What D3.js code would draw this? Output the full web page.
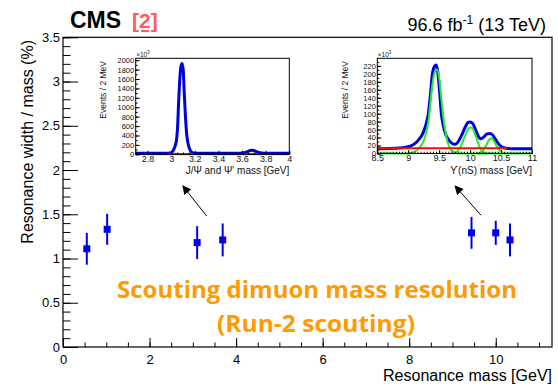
<!DOCTYPE html>
<html><head><meta charset="utf-8">
<script src="https://cdn.jsdelivr.net/npm/d3@7"></script>
<style>
html,body{margin:0;padding:0;background:#fff;}
svg{display:block;font-family:"Liberation Sans",Arial,Helvetica,sans-serif;}
</style></head>
<body><svg id="c" width="558" height="384"></svg>
<script>
// ---- main chart data ----
const resonanceMass = [0.55, 1.02, 3.10, 3.69, 9.44, 10.0, 10.33];
const widthOverMass = [1.11, 1.33, 1.18, 1.21, 1.29, 1.29, 1.21];
const widthError    = [0.18, 0.175, 0.186, 0.186, 0.18, 0.136, 0.186];
const mainXTicks = [0, 2, 4, 6, 8, 10];
const mainYTicks = [0, 0.5, 1, 1.5, 2, 2.5, 3, 3.5];
const mainYTickLabels = ["0", "0.5", "1", "1.5", "2", "2.5", "3", "3.5"];
// arrows (data units of main chart): [x, y]
const arrowTail = [[3.32, 1.48], [9.66, 1.49]];
const arrowHead = [[2.77, 1.82], [9.06, 1.82]];

// ---- J/psi inset (events x10^3) ----
const jpsiMass  = [2.70,2.85,2.95,2.99,3.01,3.02,3.035,3.047,3.055,3.063,3.072,3.082,3.092,3.102,3.111,3.12,3.132,3.143,3.154,3.17,3.188,3.22,3.35,3.5,3.58,3.62,3.65,3.67,3.685,3.70,3.72,3.75,3.79,3.9,4.0];
const jpsiTotal = [22,22,24,30,55,95,190,340,600,1100,1550,1850,1930,1800,1300,850,420,230,128,55,30,24,22,22,24,36,62,80,85,80,60,34,24,22,22];
const jpsiBkgMassA = [2.97, 3.2], jpsiBkgA = [6, 6];
const jpsiBkgMassB = [3.62, 3.75], jpsiBkgB = [6, 6];
const jpsiXTicks = [2.8, 3, 3.2, 3.4, 3.6, 3.8, 4];
const jpsiXTickLabels = ["2.8", "3", "3.2", "3.4", "3.6", "3.8", "4"];
const jpsiYTicks = [0,200,400,600,800,1000,1200,1400,1600,1800,2000];

// ---- Upsilon inset (events x10^3) ----
const upsMass  = [8.5,8.8,9.0,9.1,9.17,9.235,9.29,9.325,9.36,9.39,9.43,9.455,9.48,9.51,9.535,9.56,9.6,9.66,9.71,9.755,9.8,9.86,9.92,9.96,10.0,10.04,10.08,10.12,10.17,10.22,10.27,10.32,10.36,10.4,10.45,10.5,10.56,10.7,11.0];
const upsTotal = [12,13,17,24,35,50,75,100,150,200,220,222,200,150,100,75,50,33,25,23,28,45,66,77,79,76,63,47,37,41,49,50,47,38,26,18,14,12,12];
const ups1SMass = [8.5,9.0,9.1,9.2,9.27,9.33,9.38,9.42,9.46,9.5,9.54,9.58,9.63,9.68,9.73,9.8,11.0];
const ups1S     = [0,0,4,18,40,85,160,200,211,190,130,75,32,12,4,0,0];
const ups2SMass = [9.72,9.78,9.85,9.92,9.97,10.01,10.05,10.1,10.15,10.2,10.26];
const ups2S     = [0,4,18,45,62,66,60,40,18,5,0];
const ups3SMass = [10.12,10.2,10.26,10.3,10.34,10.38,10.43,10.49,10.56];
const ups3S     = [0,6,20,33,38,33,18,6,0];
const upsBkgMass = [8.5, 10.6], upsBkg = [13, 13];
const upsXTicks = [8.5, 9, 9.5, 10, 10.5, 11];
const upsXTickLabels = ["8.5", "9", "9.5", "10", "10.5", "11"];
const upsYTicks = [0,20,40,60,80,100,120,140,160,180,200,220];

const svg = d3.select("#c");
const BLUE = "#0000f0";

// ================= main chart =================
const x = d3.scaleLinear().domain([0, 11.3]).range([63, 552]);
const y = d3.scaleLinear().domain([0, 3.5]).range([347, 37.3]);

svg.append("rect").attr("x", x(0)).attr("y", y(3.5))
  .attr("width", x(11.3) - x(0)).attr("height", y(0) - y(3.5))
  .attr("fill", "none").attr("stroke", "#000").attr("stroke-width", 1.2);

// x axis
const gx = svg.append("g").attr("transform", `translate(0,${y(0)})`);
gx.call(d3.axisBottom(x).tickValues(d3.range(0, 11.3, 0.5)).tickSizeInner(-4.5).tickSizeOuter(0).tickFormat(""))
  .call(g => g.select(".domain").remove());
gx.append("g").call(d3.axisBottom(x).tickValues(mainXTicks).tickSizeInner(-9).tickSizeOuter(0).tickPadding(8).tickFormat(d3.format("d")))
  .call(g => g.select(".domain").remove())
  .call(g => g.selectAll("text").attr("font-size", 13).attr("fill", "#000").attr("font-family", "Liberation Sans, Arial, sans-serif"));
gx.selectAll("line").attr("stroke", "#000");

// y axis
const gy = svg.append("g").attr("transform", `translate(${x(0)},0)`);
gy.call(d3.axisLeft(y).tickValues(d3.range(0, 3.51, 0.1)).tickSizeInner(-7.5).tickSizeOuter(0).tickFormat(""))
  .call(g => g.select(".domain").remove());
gy.append("g").call(d3.axisLeft(y).tickValues(mainYTicks).tickSizeInner(-15).tickSizeOuter(0).tickPadding(3)
    .tickFormat((d, i) => mainYTickLabels[i]))
  .call(g => g.select(".domain").remove())
  .call(g => g.selectAll("text").attr("font-size", 13).attr("fill", "#000").attr("font-family", "Liberation Sans, Arial, sans-serif"));
gy.selectAll("line").attr("stroke", "#000");

// axis titles
svg.append("text").attr("x", 552).attr("y", 381).attr("text-anchor", "end")
  .attr("font-size", 16).text("Resonance mass [GeV]");
svg.append("text").attr("transform", "translate(33,40) rotate(-90)").attr("text-anchor", "end")
  .attr("font-size", 16).text("Resonance width / mass (%)");

// header
svg.append("text").attr("x", 70).attr("y", 28).attr("font-size", 23).attr("font-weight", "bold").text("CMS");
svg.append("text").attr("x", 132).attr("y", 28).attr("font-size", 21).attr("font-weight", "bold")
  .attr("fill", "#ff5c5c").attr("text-decoration", "underline").text("[2]");
const lumi = svg.append("text").attr("x", 546).attr("y", 31).attr("text-anchor", "end").attr("font-size", 18);
lumi.append("tspan").text("96.6 fb");
lumi.append("tspan").attr("dy", -7).attr("font-size", 12).text("-1");
lumi.append("tspan").attr("dy", 7).text(" (13 TeV)");

// error bars + markers
const pts = resonanceMass.map((m, i) => ({m, v: widthOverMass[i], e: widthError[i]}));
svg.append("g").selectAll("line").data(pts).join("line")
  .attr("x1", d => x(d.m)).attr("x2", d => x(d.m))
  .attr("y1", d => y(d.v - d.e)).attr("y2", d => y(d.v + d.e))
  .attr("stroke", BLUE).attr("stroke-width", 2);
svg.append("g").selectAll("rect").data(pts).join("rect")
  .attr("x", d => x(d.m) - 3.5).attr("y", d => y(d.v) - 3.5)
  .attr("width", 7).attr("height", 7).attr("fill", BLUE);

// arrows
svg.append("defs").append("marker").attr("id", "ah").attr("viewBox", "0 0 10 10")
  .attr("refX", 9).attr("refY", 5).attr("markerWidth", 9).attr("markerHeight", 9)
  .attr("markerUnits", "userSpaceOnUse").attr("orient", "auto")
  .append("path").attr("d", "M0,0 L10,5 L0,10 z").attr("fill", "#000");
svg.append("g").selectAll("line").data(arrowTail).join("line")
  .attr("x1", d => x(d[0])).attr("y1", d => y(d[1]))
  .attr("x2", (d, i) => x(arrowHead[i][0])).attr("y2", (d, i) => y(arrowHead[i][1]))
  .attr("stroke", "#000").attr("stroke-width", 1).attr("marker-end", "url(#ah)");

// orange annotation
const ORANGE = "#ff9a00";
svg.append("text").attr("x", 317).attr("y", 298).attr("text-anchor", "middle")
  .attr("font-family", "Open Sans, Lato, sans-serif").attr("font-weight", "bold").attr("font-size", 23)
  .attr("fill", ORANGE).attr("textLength", 400).attr("lengthAdjust", "spacingAndGlyphs")
  .text("Scouting dimuon mass resolution");
svg.append("text").attr("x", 316).attr("y", 332).attr("text-anchor", "middle")
  .attr("font-family", "Open Sans, Lato, sans-serif").attr("font-weight", "bold").attr("font-size", 23)
  .attr("fill", ORANGE).attr("textLength", 198).attr("lengthAdjust", "spacingAndGlyphs")
  .text("(Run-2 scouting)");

// ================= inset helper =================
function inset(cfg) {
  const g = svg.append("g");
  const ix = d3.scaleLinear().domain(cfg.xd).range(cfg.xr);
  const iy = d3.scaleLinear().domain(cfg.yd).range(cfg.yr);
  g.append("rect").attr("x", cfg.xr[0]).attr("y", cfg.yr[1])
    .attr("width", cfg.xr[1] - cfg.xr[0]).attr("height", cfg.yr[0] - cfg.yr[1]).attr("fill", "#fff");
  const line = d3.line().x(d => ix(d[0])).y(d => iy(d[1])).curve(d3.curveMonotoneX);
  cfg.curves.forEach(c => {
    g.append("path").datum(c.xs.map((v, i) => [v, c.ys[i]]))
      .attr("d", line).attr("fill", "none").attr("stroke", c.color).attr("stroke-width", c.w)
      .attr("stroke-linejoin", "round");
  });
  const ax = g.append("g").attr("transform", `translate(0,${cfg.yr[0]})`);
  ax.call(d3.axisBottom(ix).tickValues(cfg.xMinor).tickSizeInner(-1.8).tickSizeOuter(0).tickFormat(""))
    .call(a => a.select(".domain").remove());
  ax.append("g").call(d3.axisBottom(ix).tickValues(cfg.xTicks).tickSizeInner(-3.5).tickSizeOuter(0).tickPadding(1.5)
      .tickFormat((d, i) => cfg.xLabels[i]))
    .call(a => a.select(".domain").remove())
    .call(a => a.selectAll("text").attr("font-size", 9).attr("fill", "#111").attr("font-family", "Liberation Sans, Arial, sans-serif"));
  ax.selectAll("line").attr("stroke", "#000");
  const ay = g.append("g").attr("transform", `translate(${cfg.xr[0]},0)`);
  ay.call(d3.axisLeft(iy).tickValues(cfg.yMinor).tickSizeInner(-2).tickSizeOuter(0).tickFormat(""))
    .call(a => a.select(".domain").remove());
  ay.append("g").call(d3.axisLeft(iy).tickValues(cfg.yTicks).tickSizeInner(-4).tickSizeOuter(0).tickPadding(1.5)
      .tickFormat(d3.format("d")))
    .call(a => a.select(".domain").remove())
    .call(a => a.selectAll("text").attr("font-size", 7.5).attr("fill", "#111").attr("font-family", "Liberation Sans, Arial, sans-serif"));
  ay.selectAll("line").attr("stroke", "#000");
  g.append("rect").attr("x", cfg.xr[0]).attr("y", cfg.yr[1])
    .attr("width", cfg.xr[1] - cfg.xr[0]).attr("height", cfg.yr[0] - cfg.yr[1])
    .attr("fill", "none").attr("stroke", "#000").attr("stroke-width", 1);
  const ex = g.append("text").attr("x", cfg.xr[0] + 0.5).attr("y", cfg.yr[1] - 1.5).attr("font-size", 6.5).attr("fill", "#222");
  ex.append("tspan").text("×10");
  ex.append("tspan").attr("dy", -2.5).attr("font-size", 4.5).text("3");
  g.append("text").attr("x", cfg.xr[1]).attr("y", 174).attr("text-anchor", "end")
    .attr("font-size", 10).attr("fill", "#111").text(cfg.xTitle);
  g.append("text").attr("transform", `translate(${cfg.xr[0] - 29.5},61) rotate(-90)`).attr("text-anchor", "end")
    .attr("font-size", 8.5).attr("fill", "#111").text("Events / 2 MeV");
}

inset({
  xd: [2.7, 4.0], xr: [135.7, 289.3], yd: [0, 2040], yr: [154.3, 58.3],
  xTicks: jpsiXTicks, xLabels: jpsiXTickLabels, xMinor: d3.range(2.7, 4.001, 0.05),
  yTicks: jpsiYTicks, yMinor: d3.range(0, 2040, 100),
  xTitle: "J/Ψ and Ψ' mass [GeV]",
  curves: [
    {xs: [2.7, 4.0], ys: [0, 0], color: "#22dd22", w: 2},
    {xs: jpsiMass, ys: jpsiTotal, color: "#0000e0", w: 3},
    {xs: jpsiBkgMassA, ys: jpsiBkgA, color: "#e02000", w: 1.6},
    {xs: jpsiBkgMassB, ys: jpsiBkgB, color: "#e02000", w: 1.6}
  ]
});

inset({
  xd: [8.5, 11], xr: [377.3, 532], yd: [0, 239], yr: [153.5, 58.3],
  xTicks: upsXTicks, xLabels: upsXTickLabels, xMinor: d3.range(8.5, 11.001, 0.05),
  yTicks: upsYTicks, yMinor: d3.range(0, 239, 10),
  xTitle: "ϒ(nS) mass [GeV]",
  curves: [
    {xs: upsMass, ys: upsTotal, color: "#0000e0", w: 3},
    {xs: ups1SMass, ys: ups1S, color: "#22ee22", w: 2},
    {xs: ups2SMass, ys: ups2S, color: "#22ee22", w: 2},
    {xs: ups3SMass, ys: ups3S, color: "#22ee22", w: 2},
    {xs: upsBkgMass, ys: upsBkg, color: "#ee1100", w: 2}
  ]
});
</script></body></html>
